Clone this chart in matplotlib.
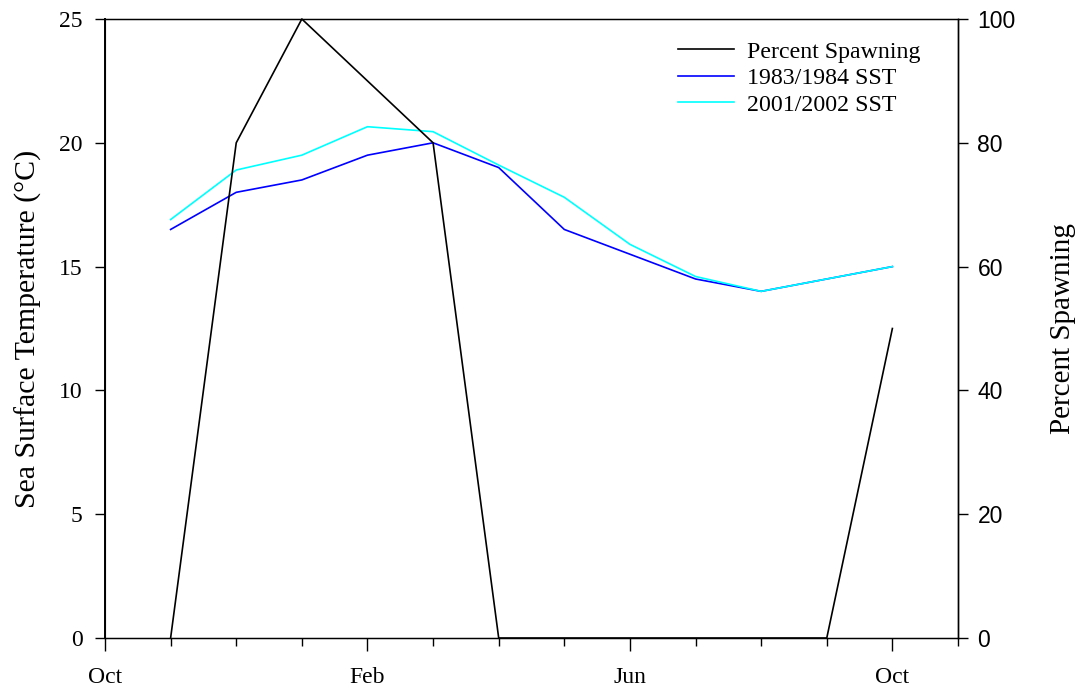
import matplotlib
matplotlib.use("Agg")
import matplotlib.pyplot as plt
import numpy as np

# months counted from October (0) of the first year
month_names = ["Nov", "Dec", "Jan", "Feb", "Mar", "Apr",
               "May", "Jun", "Jul", "Aug", "Sep", "Oct"]
months = np.arange(1, 13)

spawning = [0, 80, 100, 90, 80, 0, 0, 0, 0, 0, 0, 50]
sst_1983 = [16.5, 18.0, 18.5, 19.5, 20.0, 19.0, 16.5, 15.5, 14.5, 14.0, 14.5, 15.0]
sst_2001 = [16.9, 18.9, 19.5, 20.65, 20.45, 19.1, 17.8, 15.9, 14.6, 14.0, 14.5, 15.0]

tick_pos = [0, 4, 8, 12]
tick_lab = ["Oct", "Feb", "Jun", "Oct"]

serif = "Liberation Serif"
sans = "Liberation Sans"

fig = plt.figure(figsize=(10.79, 6.88), dpi=100)
ax = fig.add_axes([105 / 1079, 1 - 638 / 688, (958 - 105) / 1079, (638 - 19) / 688])
ax2 = ax.twinx()

l1, = ax.plot(months, sst_1983, color="#0000ff", lw=1.2)
l2, = ax.plot(months, sst_2001, color="#00ffff", lw=1.2)
l0, = ax2.plot(months, spawning, color="black", lw=1.2, clip_on=False)

ax.set_xlim(0, 13)
ax.set_ylim(0, 25)
ax2.set_ylim(0, 100)

ax.set_xticks(tick_pos)
ax.set_xticklabels(tick_lab, fontfamily=serif, fontsize=17)
ax.set_xticks(np.arange(0, 14), minor=True)
ax.set_yticks(np.arange(0, 26, 5))
ax.set_yticklabels([str(v) for v in range(0, 26, 5)], fontfamily=serif, fontsize=17)
ax2.set_yticks(np.arange(0, 101, 20))
ax2.set_yticklabels([str(v) for v in range(0, 101, 20)], fontfamily=sans, fontsize=16.5)

ax.tick_params(axis="x", which="major", direction="out", length=9, width=1, pad=12)
ax.tick_params(axis="x", which="minor", direction="out", length=5.5, width=1)
ax.tick_params(axis="y", direction="out", length=7, width=1, pad=9)
ax2.tick_params(axis="y", direction="out", length=7, width=1, pad=7)

for s in ["top", "right", "bottom"]:
    ax.spines[s].set_linewidth(1.0)
ax.spines["left"].set_linewidth(1.4)
ax2.spines["right"].set_linewidth(1.0)

ax.set_ylabel("Sea Surface Temperature (°C)", fontfamily=serif, fontsize=21.5, labelpad=12)
ax2.set_ylabel("Percent Spawning", fontfamily=serif, fontsize=21, labelpad=25)

leg = ax2.legend([l0, l1, l2], ["Percent Spawning", "1983/1984 SST", "2001/2002 SST"],
                 loc="upper left", bbox_to_anchor=(678 / 1079, 1 - 41 / 688),
                 bbox_transform=fig.transFigure, frameon=False,
                 prop={"family": serif, "size": 17.2}, handlelength=2.35,
                 handletextpad=0.55, labelspacing=0.2, borderpad=0, borderaxespad=0)

fig.savefig("out.png", dpi=100)
